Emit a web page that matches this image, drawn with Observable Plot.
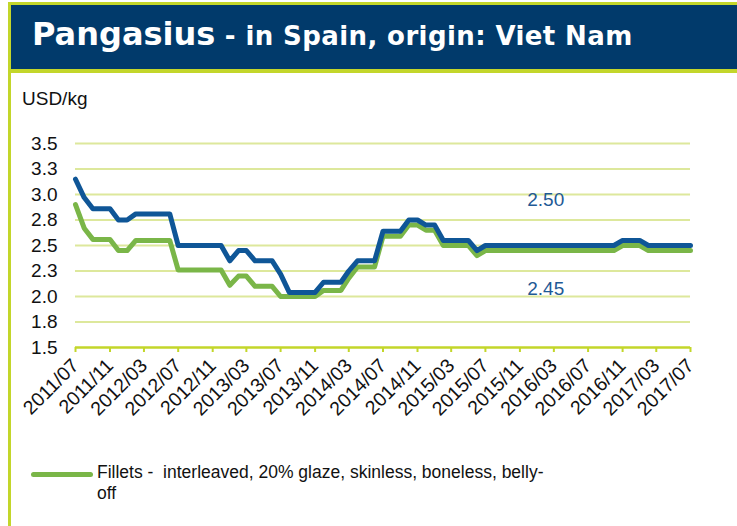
<!DOCTYPE html>
<html>
<head>
<meta charset="utf-8">
<script src="https://cdn.jsdelivr.net/npm/d3@7"></script>
<script src="https://cdn.jsdelivr.net/npm/@observablehq/plot@0.6"></script>
<style>
  html, body { margin: 0; padding: 0; background: #ffffff; }
  #page { position: relative; width: 737px; height: 526px; overflow: hidden; background: #fff; font-family: "Liberation Sans", Arial, sans-serif; }
  #leftbar { position: absolute; left: 8px; top: 2px; width: 3px; height: 524px; background: #c3d62a; }
  #header { position: absolute; left: 8px; top: 2px; width: 729px; height: 71px; background: #c3d62a; }
  #header .inner { position: absolute; left: 3px; top: 3px; right: 0; height: 64px; background: #013a6b; }
  #title { position: absolute; left: 32px; top: 14px; white-space: nowrap; color: #fff; font-family: "DejaVu Sans", Verdana, sans-serif; font-weight: bold; line-height: 40px; }
  #title .main { font-size: 32px; }
  #title .sub { font-size: 26px; letter-spacing: 0.4px; }
  #unit { position: absolute; left: 22px; top: 88px; font-size: 19px; color: #111; }
  #chart { position: absolute; left: 0; top: 120px; }
  #legend { position: absolute; left: 31px; top: 462px; }
  #legend .swatch { position: absolute; left: 0; top: 10px; width: 62px; height: 5px; border-radius: 3px; background: #7ab648; }
  #legend .label { position: absolute; left: 66px; top: 0; width: 470px; font-size: 17.5px; line-height: 21px; color: #111; white-space: nowrap; }
</style>
</head>
<body>
<div id="page">
  <div id="leftbar"></div>
  <div id="header"><div class="inner"></div></div>
  <div id="title"><span class="main">Pangasius</span><span class="sub"> - in Spain, origin: Viet Nam</span></div>
  <div id="unit">USD/kg</div>
  <div id="chart"></div>
  <div id="legend"><div class="swatch"></div><div class="label">Fillets -&nbsp; interleaved, 20% glaze, skinless, boneless, belly-<br>off</div></div>
</div>
<script>
// ---- data (monthly, 2011/07 .. 2017/07) ----
const firstMonth = "2011/07";
const lastMonth = "2017/07";

// dark blue series (unlabelled in legend), USD/kg
const blueValues = [
  3.15, 2.97, 2.86, 2.86, 2.86, 2.75, 2.75, 2.81, 2.81, 2.81, 2.81, 2.81,
  2.50, 2.50, 2.50, 2.50, 2.50, 2.50, 2.35, 2.45, 2.45, 2.35, 2.35, 2.35,
  2.22, 2.04, 2.04, 2.04, 2.04, 2.14, 2.14, 2.14, 2.25, 2.35, 2.35, 2.35,
  2.64, 2.64, 2.64, 2.75, 2.75, 2.70, 2.70, 2.55, 2.55, 2.55, 2.55, 2.45,
  2.50, 2.50, 2.50, 2.50, 2.50, 2.50, 2.50, 2.50, 2.50, 2.50, 2.50, 2.50,
  2.50, 2.50, 2.50, 2.50, 2.55, 2.55, 2.55, 2.50, 2.50, 2.50, 2.50, 2.50,
  2.50
];

// green series: Fillets - interleaved, 20% glaze, skinless, boneless, belly-off
const greenValues = [
  2.90, 2.67, 2.56, 2.56, 2.56, 2.45, 2.45, 2.55, 2.55, 2.55, 2.55, 2.55,
  2.26, 2.26, 2.26, 2.26, 2.26, 2.26, 2.11, 2.20, 2.20, 2.10, 2.10, 2.10,
  2.00, 2.00, 2.00, 2.00, 2.00, 2.06, 2.06, 2.06, 2.18, 2.29, 2.29, 2.29,
  2.59, 2.59, 2.59, 2.70, 2.70, 2.65, 2.65, 2.50, 2.50, 2.50, 2.50, 2.40,
  2.45, 2.45, 2.45, 2.45, 2.45, 2.45, 2.45, 2.45, 2.45, 2.45, 2.45, 2.45,
  2.45, 2.45, 2.45, 2.45, 2.50, 2.50, 2.50, 2.45, 2.45, 2.45, 2.45, 2.45,
  2.45
];

const xTickLabels = ["2011/07","2011/11","2012/03","2012/07","2012/11","2013/03","2013/07",
  "2013/11","2014/03","2014/07","2014/11","2015/03","2015/07","2015/11","2016/03",
  "2016/07","2016/11","2017/03","2017/07"];
const yTickValues = [1.5, 1.75, 2.0, 2.25, 2.5, 2.75, 3.0, 3.25, 3.5];
const yTickLabels = ["1.5", "1.8", "2.0", "2.3", "2.5", "2.8", "3.0", "3.3", "3.5"];

// end-value annotations (text, month, value position)
const annoText = ["2.50", "2.45"];
const annoMonth = ["2016/02", "2016/02"];
const annoValue = [2.95, 2.07];

// ---- build ----
const parseMonth = d3.utcParse("%Y/%m");
const months = d3.utcMonth.range(parseMonth(firstMonth), d3.utcMonth.offset(parseMonth(lastMonth), 1));
const rows = months.map((d, i) => ({date: d, blue: blueValues[i], green: greenValues[i]}));
const xTicks = xTickLabels.map(parseMonth);
const annos = annoText.map((t, i) => ({text: t, date: parseMonth(annoMonth[i]), value: annoValue[i]}));

const BLUE = "#0f5697";
const GREEN = "#7ab648";
const LIME = "#c3d62a";
const GRID = "#dde89c";

const chart = Plot.plot({
  width: 737,
  height: 310,
  marginTop: 23,
  marginBottom: 83,
  marginLeft: 75,
  marginRight: 47,
  style: {fontFamily: "'Liberation Sans', Arial, sans-serif", color: "#111", background: "transparent", overflow: "visible"},
  x: {type: "utc", domain: [parseMonth(firstMonth), parseMonth(lastMonth)], label: null},
  y: {domain: [1.5, 3.5], label: null},
  marks: [
    Plot.ruleY(yTickValues.slice(1), {stroke: GRID, strokeWidth: 2}),
    Plot.axisY({ticks: yTickValues, tickSize: 0, tickPadding: 18, fontSize: 19,
      tickFormat: v => yTickLabels[yTickValues.indexOf(v)], label: null}),
    Plot.axisX({ticks: xTicks, tickFormat: d3.utcFormat("%Y/%m"), tickRotate: -45,
      tickSize: 5, tickPadding: 10, stroke: LIME, strokeWidth: 2, fontSize: 19.5, label: null}),
    Plot.ruleY([1.5], {stroke: LIME, strokeWidth: 2.5}),
    Plot.lineY(rows, {x: "date", y: "green", stroke: GREEN, strokeWidth: 5, strokeLinejoin: "round", strokeLinecap: "round"}),
    Plot.lineY(rows, {x: "date", y: "blue", stroke: BLUE, strokeWidth: 5, strokeLinejoin: "round", strokeLinecap: "round"}),
    Plot.text(annos, {x: "date", y: "value", text: "text", fill: "#1f5a96", fontSize: 19, textAnchor: "middle", lineAnchor: "middle"})
  ]
});
document.getElementById("chart").appendChild(chart);
</script>
</body>
</html>
